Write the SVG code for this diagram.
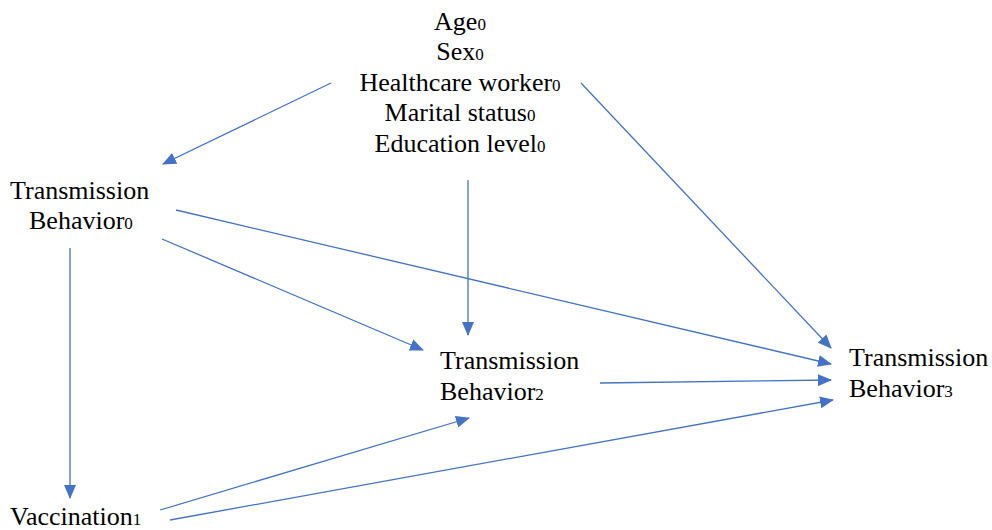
<svg xmlns="http://www.w3.org/2000/svg" width="992" height="530" viewBox="0 0 992 530" font-family="Liberation Serif, Times New Roman, DejaVu Serif, serif">
<style>
text{font-size:26px;fill:#000}
.s{font-size:17px}
.c line{stroke:#4472C4;stroke-width:1.3;marker-end:url(#a)}
</style>
<defs>
<marker id="a" markerUnits="userSpaceOnUse" markerWidth="14" markerHeight="12" refX="13" refY="6" orient="auto">
<path d="M0,0 L14,6 L0,12 Z" fill="#4472C4"/>
</marker>
</defs>
<rect width="992" height="530" fill="#fff"/>
<g id="confounders" font-family="Liberation Serif, serif">
<text x="460" y="30" text-anchor="middle">Age<tspan class="s">0</tspan></text>
<text x="460" y="60" text-anchor="middle">Sex<tspan class="s">0</tspan></text>
<text x="460" y="91" text-anchor="middle">Healthcare worker<tspan class="s">0</tspan></text>
<text x="460" y="121" text-anchor="middle">Marital status<tspan class="s">0</tspan></text>
<text x="460" y="152" text-anchor="middle">Education level<tspan class="s">0</tspan></text>
</g>
<g id="tb0" font-family="Liberation Serif, serif">
<text x="10" y="199">Transmission</text>
<text x="29" y="229">Behavior<tspan class="s">0</tspan></text>
</g>
<g id="tb2" font-family="Liberation Serif, serif">
<text x="440" y="369">Transmission</text>
<text x="440" y="400">Behavior<tspan class="s">2</tspan></text>
</g>
<g id="tb3" font-family="Liberation Serif, serif">
<text x="849" y="366">Transmission</text>
<text x="849" y="397">Behavior<tspan class="s">3</tspan></text>
</g>
<g id="vacc" font-family="Liberation Serif, serif">
<text x="10" y="525">Vaccination<tspan class="s">1</tspan></text>
</g>
<g id="connectors" class="c">
<line x1="331" y1="83" x2="163" y2="164"/>
<line x1="581" y1="83" x2="831" y2="348"/>
<line x1="468" y1="180" x2="468" y2="335"/>
<line x1="176" y1="210" x2="831" y2="364"/>
<line x1="162" y1="239" x2="423" y2="350"/>
<line x1="70" y1="248" x2="70" y2="498"/>
<line x1="600" y1="383" x2="831" y2="380"/>
<line x1="160" y1="510" x2="469" y2="418"/>
<line x1="170" y1="520" x2="833" y2="400"/>
</g>
</svg>
